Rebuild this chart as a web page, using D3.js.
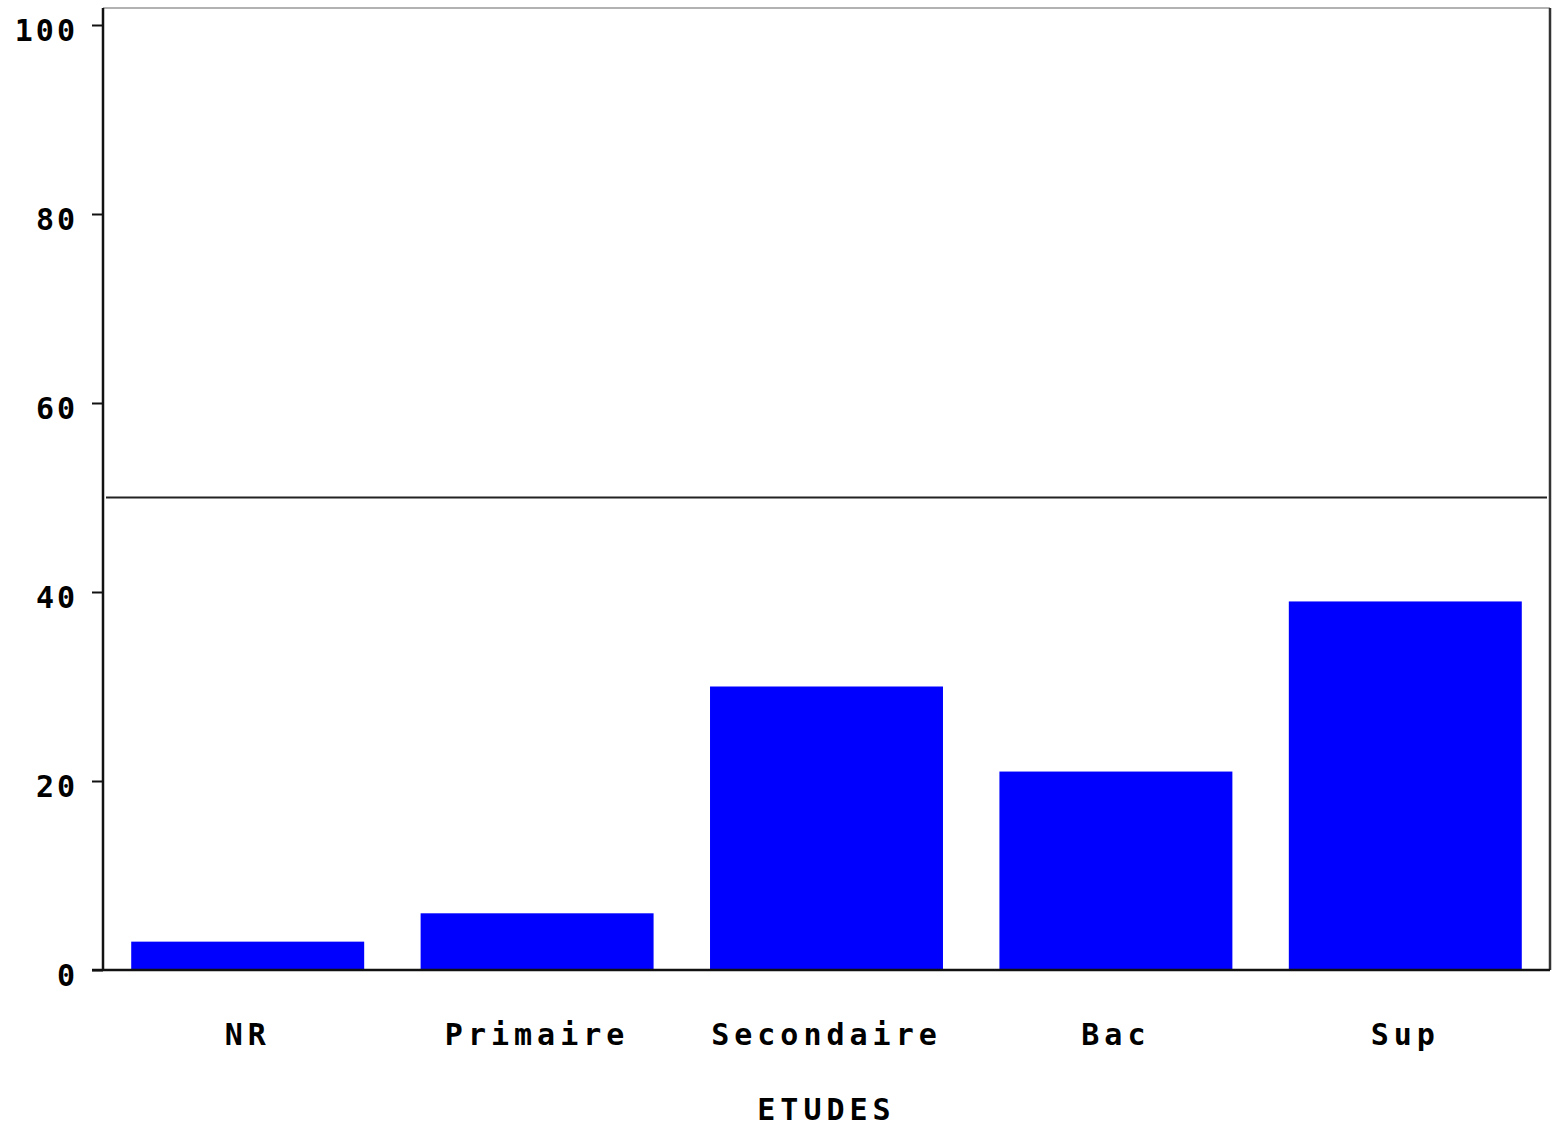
<!DOCTYPE html>
<html><head><meta charset="utf-8">
<script src="https://cdn.jsdelivr.net/npm/d3@7"></script>
<style>html,body{margin:0;padding:0;background:#fff;overflow:hidden}</style>
</head><body>
<script>
const categories = ["NR", "Primaire", "Secondaire", "Bac", "Sup"];
const values = [3, 6, 30, 21, 39];
const yTicks = [0, 20, 40, 60, 80, 100];
const refValue = 50;
const xTitle = "ETUDES";

(function () {
const W = 1558, H = 1127;
const svg = d3.select("body").append("svg").attr("width", W).attr("height", H);
const mLeft = 103, mRight = 1550, mTop = 8, mBottom = 970;

const x = d3.scaleBand().domain(categories).range([mLeft, mRight]).paddingInner(0.195).paddingOuter(0.0975);
const y = d3.scaleLinear().domain([0, 100]).range([mBottom, 25]);

const font = "'DejaVu Sans Mono', monospace";

// frame top & right
svg.append("line").attr("x1", mLeft).attr("x2", mRight).attr("y1", mTop).attr("y2", mTop)
  .attr("stroke", "#999").attr("stroke-width", 1.5);
svg.append("line").attr("x1", mRight).attr("x2", mRight).attr("y1", mTop).attr("y2", mBottom)
  .attr("stroke", "#333").attr("stroke-width", 2.5);

// bars
svg.selectAll("rect.bar").data(values).join("rect")
  .attr("class", "bar")
  .attr("x", (d, i) => x(categories[i]))
  .attr("width", x.bandwidth())
  .attr("y", d => y(d))
  .attr("height", d => y(0) - y(d))
  .attr("fill", "#0000ff");

// reference line
svg.append("line").attr("x1", mLeft + 3).attr("x2", mRight - 3)
  .attr("y1", y(refValue)).attr("y2", y(refValue))
  .attr("stroke", "#222").attr("stroke-width", 2);

// y axis
const yAxis = d3.axisLeft(y).tickValues(yTicks).tickSize(11).tickPadding(14).tickFormat(d3.format("d"));
const gy = svg.append("g").attr("transform", `translate(${mLeft},0)`).call(yAxis);
gy.select(".domain").attr("d", `M0,${mTop}V${mBottom}`).attr("stroke", "#111").attr("stroke-width", 2.5);
gy.selectAll(".tick line").attr("stroke", "#111").attr("stroke-width", 2);
gy.selectAll(".tick text").attr("font-family", font).attr("font-weight", "bold")
  .attr("font-size", 30).attr("letter-spacing", 3).attr("fill", "#000")
  .attr("dy", "0.5em");

// x baseline
svg.append("line").attr("x1", mLeft - 11).attr("x2", mRight).attr("y1", mBottom).attr("y2", mBottom)
  .attr("stroke", "#111").attr("stroke-width", 2.5);

// category labels
svg.selectAll("text.cat").data(categories).join("text")
  .attr("class", "cat")
  .attr("x", d => x(d) + x.bandwidth() / 2)
  .attr("y", 1045)
  .attr("text-anchor", "middle")
  .attr("font-family", font).attr("font-weight", "bold")
  .attr("font-size", 30).attr("letter-spacing", 5).attr("fill", "#000")
  .text(d => d);

svg.append("text").attr("x", (mLeft + mRight) / 2).attr("y", 1120)
  .attr("text-anchor", "middle")
  .attr("font-family", font).attr("font-weight", "bold")
  .attr("font-size", 30).attr("letter-spacing", 5).attr("fill", "#000")
  .text(xTitle);
})();
</script>
</body></html>
